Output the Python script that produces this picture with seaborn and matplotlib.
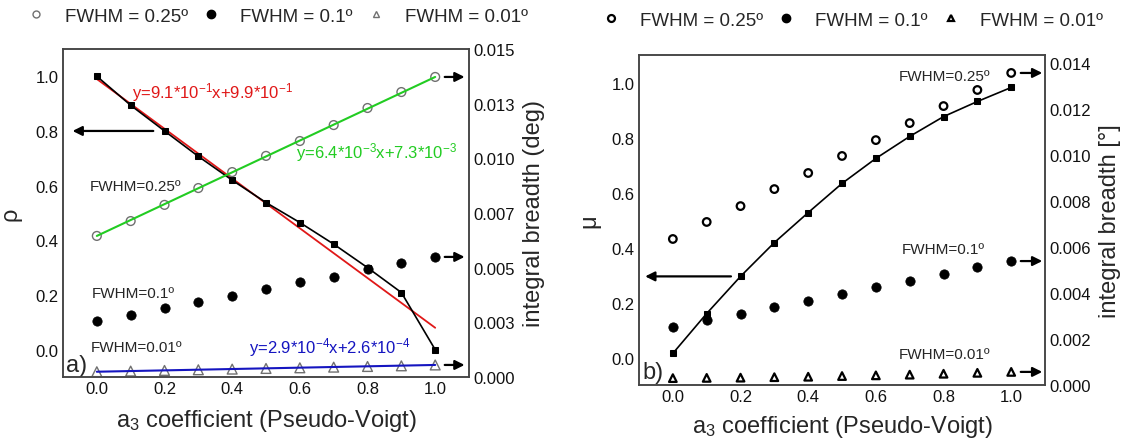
import matplotlib
matplotlib.use("Agg")
import matplotlib.pyplot as plt
import seaborn as sns
from matplotlib.lines import Line2D

# a3 coefficient values (shared x for every series)
a3 = [0.0, 0.1, 0.2, 0.3, 0.4, 0.5, 0.6, 0.7, 0.8, 0.9, 1.0]

# panel a) rho and integral breadths (deg)
rho_a = [1.0, 0.894, 0.80, 0.707, 0.62, 0.538, 0.465, 0.386, 0.30, 0.209, 0.0]
ib_025_a = [0.00645, 0.00713, 0.00787, 0.00864, 0.00937, 0.01011, 0.01079, 0.01152, 0.01230, 0.01303, 0.01372]
ib_010_a = [0.00256, 0.00284, 0.00316, 0.00343, 0.00370, 0.00402, 0.00434, 0.00457, 0.00494, 0.00521, 0.00549]
ib_001_a = [0.00024, 0.00027, 0.00030, 0.00033, 0.00036, 0.00039, 0.00042, 0.00045, 0.00048, 0.00051, 0.00055]
fit_x = [0.0, 1.0]
rho_fit = [0.99, 0.08]
ib_025_fit = [0.00645, 0.01372]
ib_001_fit = [0.00024, 0.00055]

# panel b) mu and integral breadths (deg)
mu_b = [0.015, 0.16, 0.295, 0.418, 0.527, 0.633, 0.724, 0.804, 0.876, 0.931, 0.982]
ib_025_b = [0.00635, 0.00709, 0.00778, 0.00852, 0.00922, 0.00996, 0.01065, 0.01139, 0.01213, 0.01283, 0.01357]
ib_010_b = [0.00252, 0.00283, 0.00309, 0.00339, 0.00365, 0.00396, 0.00426, 0.00452, 0.00483, 0.00513, 0.00539]
ib_001_b = [0.00030, 0.00031, 0.00032, 0.00034, 0.00036, 0.00039, 0.00042, 0.00045, 0.00049, 0.00053, 0.00057]

left_ticks = [0.0, 0.2, 0.4, 0.6, 0.8, 1.0]
right_ticks_a = [0.0, 0.0025, 0.005, 0.0075, 0.01, 0.0125, 0.015]
right_labels_a = ['0.000', '0.003', '0.005', '0.007', '0.010', '0.013', '0.015']
right_ticks_b = [0.0, 0.002, 0.004, 0.006, 0.008, 0.010, 0.012, 0.014]
x_ticks = [0.0, 0.2, 0.4, 0.6, 0.8, 1.0]

sns.set_style("ticks")
plt.rcParams['font.family'] = ['Liberation Sans', 'DejaVu Sans']
plt.rcParams['mathtext.default'] = 'regular'
plt.rcParams['axes.edgecolor'] = '#444444'
plt.rcParams['axes.linewidth'] = 1.1

fig = plt.figure(figsize=(11.31, 4.39), dpi=100)
axa = fig.add_axes([0.0557, 0.1390, 0.3590, 0.7472])
axb = fig.add_axes([0.5650, 0.1207, 0.3590, 0.7517])
axa2 = axa.twinx()
axb2 = axb.twinx()

gray = '#707070'
arrow = dict(arrowstyle='-|>', color='black', lw=1.6, mutation_scale=14)

# ---- panel a ----
sns.lineplot(x=fit_x, y=rho_fit, ax=axa, color='#e01818', lw=1.3)
sns.lineplot(x=a3, y=rho_a, ax=axa, color='black', lw=1.2, marker='s', markersize=5,
             markeredgecolor='black', estimator=None, sort=False)
sns.lineplot(x=fit_x, y=ib_025_fit, ax=axa2, color='#22cc22', lw=1.5)
sns.lineplot(x=fit_x, y=ib_001_fit, ax=axa2, color='#1515c0', lw=1.5)
sns.scatterplot(x=a3, y=ib_025_a, ax=axa2, marker='o', s=40, facecolor='none',
                edgecolor=gray, linewidth=1.0)
sns.scatterplot(x=a3, y=ib_010_a, ax=axa2, marker='o', s=45, color='black', edgecolor='black')
sns.scatterplot(x=a3, y=ib_001_a, ax=axa2, marker='^', s=50, facecolor='none',
                edgecolor=gray, linewidth=1.0)

axa.annotate('', xy=(-0.08, 0.8), xytext=(0.175, 0.8), arrowprops=arrow)
for v in [ib_025_a[-1], ib_010_a[-1], ib_001_a[-1]]:
    axa2.annotate('', xy=(1.095, v), xytext=(1.02, v), arrowprops=arrow)

axa.text(0.105, 0.945, r'y=9.1*10$^{-1}$x+9.9*10$^{-1}$', color='#e01818', fontsize=12, va='center')
axa.text(0.59, 0.725, r'y=6.4*10$^{-3}$x+7.3*10$^{-3}$', color='#22cc22', fontsize=12, va='center')
axa.text(0.45, 0.01, r'y=2.9*10$^{-4}$x+2.6*10$^{-4}$', color='#1515c0', fontsize=12, va='center')
axa.text(-0.02, 0.597, 'FWHM=0.25º', fontsize=11, va='center')
axa.text(-0.015, 0.209, 'FWHM=0.1º', fontsize=11, va='center')
axa.text(-0.018, 0.011, 'FWHM=0.01º', fontsize=11, va='center')
axa.text(-0.092, -0.055, 'a)', fontsize=17, va='center')

axa.set_xlim(-0.1, 1.1)
axa.set_ylim(-0.1, 1.1)
axa2.set_ylim(0, 0.015)
axa.set_xticks(x_ticks)
axa.set_xticklabels([f'{t:.1f}' for t in x_ticks])
axa.set_yticks(left_ticks)
axa.set_yticklabels([f'{t:.1f}' for t in left_ticks])
axa2.set_yticks(right_ticks_a)
axa2.set_yticklabels(right_labels_a)
axa.set_xlabel('a$_3$ coefficient (Pseudo-Voigt)', fontsize=17, labelpad=8)
axa.set_ylabel('ρ', fontsize=17, labelpad=10)
axa2.set_ylabel('integral breadth (deg)', fontsize=17, labelpad=6)

# ---- panel b ----
sns.lineplot(x=a3, y=mu_b, ax=axb, color='black', lw=1.2, marker='s', markersize=5,
             markeredgecolor='black', estimator=None, sort=False)
sns.scatterplot(x=a3, y=ib_025_b, ax=axb2, marker='o', s=30, facecolor='none',
                edgecolor='black', linewidth=1.6)
sns.scatterplot(x=a3, y=ib_010_b, ax=axb2, marker='o', s=45, color='black', edgecolor='black')
sns.scatterplot(x=a3, y=ib_001_b, ax=axb2, marker='^', s=30, facecolor='none',
                edgecolor='black', linewidth=1.6)

axb.annotate('', xy=(-0.09, 0.295), xytext=(0.18, 0.295), arrowprops=arrow)
for v in [ib_025_b[-1], ib_010_b[-1], ib_001_b[-1]]:
    axb2.annotate('', xy=(1.1, v), xytext=(1.02, v), arrowprops=arrow)

axb.text(0.668, 1.025, 'FWHM=0.25º', fontsize=11, va='center')
axb.text(0.676, 0.396, 'FWHM=0.1º', fontsize=11, va='center')
axb.text(0.668, 0.011, 'FWHM=0.01º', fontsize=11, va='center')
axb.text(-0.09, -0.051, 'b)', fontsize=17, va='center')

axb.set_xlim(-0.1, 1.1)
axb.set_ylim(-0.1, 1.1)
axb2.set_ylim(0, 0.01435)
axb.set_xticks(x_ticks)
axb.set_xticklabels([f'{t:.1f}' for t in x_ticks])
axb.set_yticks(left_ticks)
axb.set_yticklabels([f'{t:.1f}' for t in left_ticks])
axb2.set_yticks(right_ticks_b)
axb2.set_yticklabels([f'{t:.3f}' for t in right_ticks_b])
axb.set_xlabel('a$_3$ coefficient (Pseudo-Voigt)', fontsize=17, labelpad=6)
axb.set_ylabel('μ', fontsize=17, labelpad=8)
axb2.set_ylabel('integral breadth [°]', fontsize=17, labelpad=6)

for ax in [axa, axa2, axb, axb2]:
    ax.tick_params(length=0, labelsize=12, pad=3, colors='#111111')
    for sp in ax.spines.values():
        sp.set_visible(True)
        sp.set_color('#444444')

# legends above each panel
labels = ['FWHM = 0.25º', 'FWHM = 0.1º', 'FWHM = 0.01º']
h_a = [Line2D([], [], ls='none', marker='o', mfc='none', mec=gray, ms=5),
       Line2D([], [], ls='none', marker='o', mfc='black', mec='black', ms=6),
       Line2D([], [], ls='none', marker='^', mfc='none', mec=gray, ms=5)]
h_b = [Line2D([], [], ls='none', marker='o', mfc='none', mec='black', mew=1.6, ms=5),
       Line2D([], [], ls='none', marker='o', mfc='black', mec='black', ms=6),
       Line2D([], [], ls='none', marker='^', mfc='none', mec='black', mew=1.6, ms=5)]
fig.legend(h_a, labels, ncol=3, frameon=False, fontsize=13.5, loc='center',
           bbox_to_anchor=(275 / 1131, 1 - 17 / 439), handletextpad=0.8,
           columnspacing=0.5, handlelength=1.5)
fig.legend(h_b, labels, ncol=3, frameon=False, fontsize=13.5, loc='center',
           bbox_to_anchor=(850 / 1131, 1 - 21 / 439), handletextpad=0.8,
           columnspacing=0.5, handlelength=1.5)

fig.savefig('out.png', dpi=100)
